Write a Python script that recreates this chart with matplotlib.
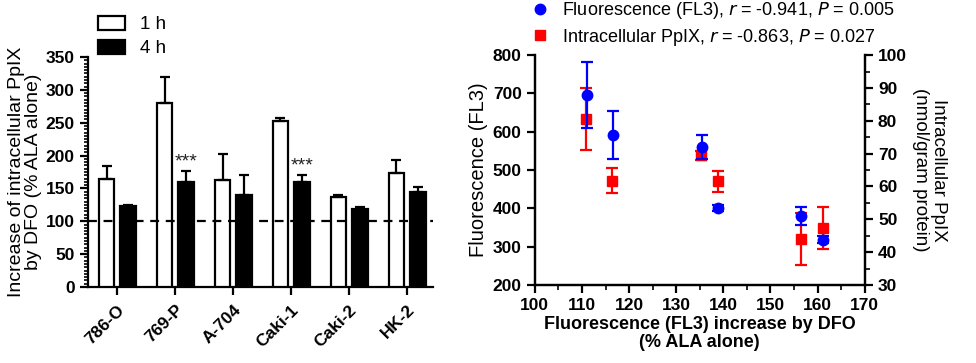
import numpy as np
import matplotlib
matplotlib.use('Agg')
import matplotlib.pyplot as plt
from matplotlib.patches import Patch
from matplotlib.lines import Line2D
from matplotlib.ticker import MultipleLocator

plt.rcParams['font.family'] = ['Liberation Sans', 'DejaVu Sans']

# left panel: PpIX increase by DFO, % of ALA alone
cells = ['786-O', '769-P', 'A-704', 'Caki-1', 'Caki-2', 'HK-2']
h1 = [165, 280, 163, 253, 136.5, 174]
h1_err = [19, 40, 39, 4, 3, 19]
h4 = [124, 160, 140.5, 160, 119, 144]
h4_err = [1.5, 16, 29.5, 10, 2, 8]
stars = ['', '***', '', '***', '', '']

# right panel: correlation with FL3 increase
fl3_x = [111.0, 116.5, 135.5, 138.8, 156.5, 161.2]
fl3_y = [696, 591, 561, 401, 380, 318]
fl3_err = [87, 63, 31, 8, 24, 9]
ppix_x = [110.8, 116.4, 135.3, 138.8, 156.4, 161.2]
ppix_y = [80.6, 61.8, 69.5, 61.6, 44.0, 47.3]
ppix_err = [9.4, 3.9, 1.3, 3.2, 8.0, 6.3]

fig = plt.figure(figsize=(9.76, 3.63), dpi=100)

# ---- bar chart
ax = fig.add_axes([0.0902, 0.2094, 0.3534, 0.6336])
x = np.arange(len(cells))
w = 0.27
ax.bar(x - 0.18, h1, w, color='white', edgecolor='black', linewidth=1.6,
       yerr=[np.zeros(len(h1)), h1_err], capsize=3.5,
       error_kw=dict(elinewidth=1.6, capthick=1.6, ecolor='black'), label='1 h', zorder=3)
ax.bar(x + 0.19, h4, w, color='black', edgecolor='black', linewidth=1.6,
       yerr=[np.zeros(len(h4)), h4_err], capsize=3.5,
       error_kw=dict(elinewidth=1.6, capthick=1.6, ecolor='black'), label='4 h', zorder=3)
for i, s in enumerate(stars):
    if s:
        ax.text(x[i] + 0.19, h4[i] + h4_err[i] + 1, s, ha='center', va='bottom',
                fontsize=14, color='#222222')
ax.axhline(100, color='black', linestyle=(0, (4, 3)), linewidth=1.6, zorder=4)

ax.set_xlim(-0.5, 5.45)
ax.set_ylim(0, 350)
ax.set_yticks(np.arange(0, 351, 50))
ax.yaxis.set_minor_locator(MultipleLocator(5))
ax.set_xticks(x)
ax.set_xticklabels(cells, rotation=45, ha='right', rotation_mode='anchor')
for sp in ['top', 'right']:
    ax.spines[sp].set_visible(False)
for sp in ['left', 'bottom']:
    ax.spines[sp].set_linewidth(1.6)
ax.tick_params(axis='both', which='major', width=1.6, length=6, labelsize=12.5)
ax.tick_params(axis='x', which='major', pad=5)
ax.tick_params(axis='y', which='minor', width=1.2, length=3)
for lab in ax.get_xticklabels() + ax.get_yticklabels():
    lab.set_fontweight('bold')
ax.set_ylabel('Increase of intracellular PpIX\nby DFO (% ALA alone)', fontsize=14,
              linespacing=1.0, labelpad=3)
ax.legend(handles=[Patch(facecolor='white', edgecolor='black', linewidth=1.6, label='1 h'),
                   Patch(facecolor='black', edgecolor='black', linewidth=1.6, label='4 h')],
          loc='lower left', bbox_to_anchor=(-0.005, 0.95), frameon=False, fontsize=13.5,
          handlelength=1.45, handleheight=0.75, handletextpad=0.8, labelspacing=0.35,
          borderpad=0.1)

# ---- scatter with two y axes
ax1 = fig.add_axes([0.548, 0.215, 0.338, 0.633])
ax2 = ax1.twinx()
ax1.set_zorder(ax2.get_zorder() + 1)
ax1.patch.set_visible(False)

ax2.errorbar(ppix_x, ppix_y, yerr=ppix_err, fmt='s', color='#ff0000', ms=7,
             elinewidth=1.6, capsize=4, capthick=1.6)
ax1.errorbar(fl3_x, fl3_y, yerr=fl3_err, fmt='o', color='#0000ff', ms=7.5,
             elinewidth=1.6, capsize=4, capthick=1.6)

ax1.set_xlim(100, 170)
ax1.set_ylim(200, 800)
ax2.set_ylim(30, 100)
ax1.xaxis.set_major_locator(MultipleLocator(10))
ax1.xaxis.set_minor_locator(MultipleLocator(5))
ax2.yaxis.set_major_locator(MultipleLocator(10))
ax2.yaxis.set_minor_locator(MultipleLocator(5))
for a in (ax1, ax2):
    a.spines['top'].set_visible(False)
    for sp in ['left', 'right', 'bottom']:
        a.spines[sp].set_linewidth(1.6)
    a.tick_params(which='major', width=1.6, length=6, labelsize=12.5)
    a.tick_params(which='minor', width=1.2, length=3.5)
for lab in ax1.get_xticklabels() + ax1.get_yticklabels() + ax2.get_yticklabels():
    lab.set_fontweight('bold')
ax1.set_ylabel('Fluorescence (FL3)', fontsize=14.5, labelpad=3)
ax1.set_xlabel('Fluorescence (FL3) increase by DFO\n(% ALA alone)', fontsize=13,
               fontweight='bold', linespacing=1.05, labelpad=2)
ax2.set_ylabel('Intracellular PpIX\n(nmol/gram protein)', fontsize=13.5, rotation=270,
               va='bottom', linespacing=1.05, labelpad=4)

handles = [Line2D([], [], marker='o', color='#0000ff', linestyle='none', ms=7.5),
           Line2D([], [], marker='s', color='#ff0000', linestyle='none', ms=7)]
labels = [r'Fluorescence (FL3), $\it{r}$ = -0.941, $\it{P}$ = 0.005',
          r'Intracellular PpIX, $\it{r}$ = -0.863, $\it{P}$ = 0.027']
ax1.legend(handles, labels, loc='lower left', bbox_to_anchor=(-0.045, 0.985), frameon=False,
           fontsize=13, handlelength=1.0, handletextpad=0.75, labelspacing=0.3, borderpad=0.1)

fig.savefig('out.png', dpi=100)
